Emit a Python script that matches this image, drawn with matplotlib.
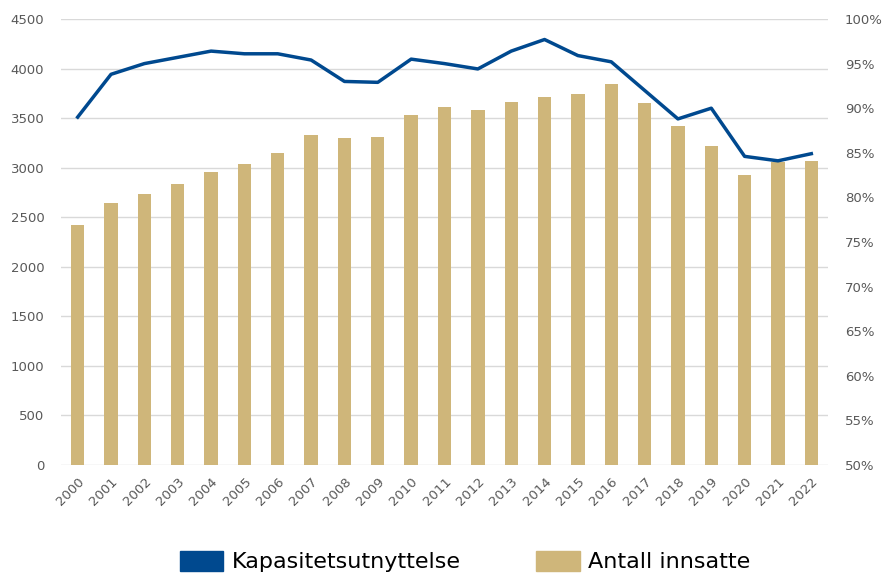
import numpy as np
import matplotlib.pyplot as plt
from matplotlib.patches import Patch
from matplotlib.ticker import PercentFormatter

# Antall innsatte og kapasitetsutnyttelse, 2000-2022
years = [str(y) for y in range(2000, 2023)]
innsatte = [2425, 2640, 2730, 2835, 2960, 3035, 3150, 3330, 3295, 3305,
            3535, 3610, 3585, 3665, 3715, 3740, 3840, 3650, 3420, 3220,
            2925, 3060, 3065]
utnyttelse = [89.0, 93.8, 95.0, 95.7, 96.4, 96.1, 96.1, 95.4, 93.0, 92.9,
              95.5, 95.0, 94.4, 96.4, 97.7, 95.9, 95.2, 92.0, 88.8, 90.0,
              84.6, 84.1, 84.9]

bar_color = '#CFB67A'
line_color = '#00498F'
tick_color = '#595959'

fig = plt.figure(figsize=(8.83, 5.73), dpi=100)
ax = fig.add_axes([61 / 883, 1 - 465 / 573, 767 / 883, 446 / 573])
ax2 = ax.twinx()

x = np.arange(len(years))
ax.bar(x, innsatte, width=0.4, color=bar_color, zorder=2)
ax2.plot(x, utnyttelse, color=line_color, lw=2.5, zorder=3)

ax.set_xlim(-0.5, len(years) - 0.5)
ax.set_ylim(0, 4500)
ax.set_yticks(range(0, 4501, 500))
ax2.set_ylim(50, 100)
ax2.set_yticks(range(50, 101, 5))
ax2.yaxis.set_major_formatter(PercentFormatter(decimals=0))

ax.grid(axis='y', color='#D9D9D9', lw=1, zorder=0)
ax.set_axisbelow(True)
for a in (ax, ax2):
    for s in a.spines.values():
        s.set_visible(False)
    a.tick_params(length=0, colors=tick_color, labelsize=9.5)
ax.tick_params(axis='y', pad=12)
ax2.tick_params(axis='y', pad=12)

ax.set_xticks(x)
ax.set_xticklabels(years, rotation=45, ha='right', rotation_mode='anchor')
ax.tick_params(axis='x', pad=7, labelsize=9.5)

# legend below the chart
handles = [Patch(color=line_color, label='Kapasitetsutnyttelse'),
           Patch(color=bar_color, label='Antall innsatte')]
fig.legend(handles=handles, loc='center', bbox_to_anchor=(0.527, 0.02),
           ncol=2, frameon=False, handlelength=1.94,
           handleheight=1.0, handletextpad=0.4, columnspacing=3.4,
           prop={'family': 'DejaVu Sans', 'size': 16})

fig.savefig('out.png', dpi=100)
